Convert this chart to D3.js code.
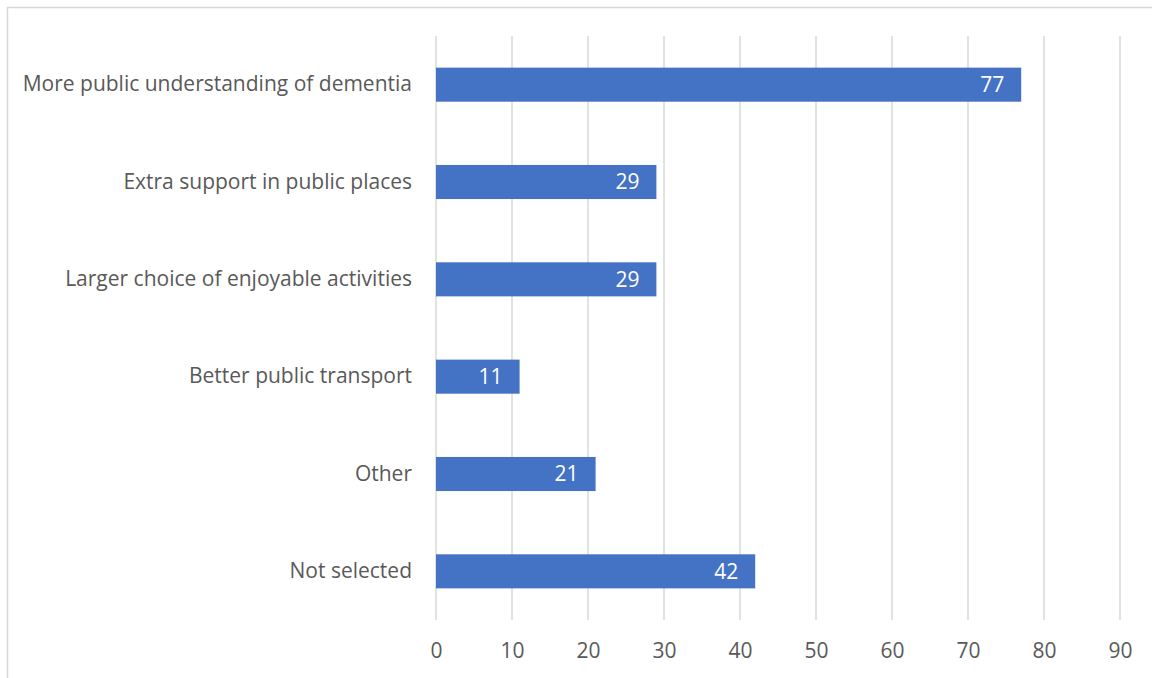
<!DOCTYPE html>
<html>
<head>
<meta charset="utf-8">
<script src="https://cdn.jsdelivr.net/npm/d3@7"></script>
<style>
  html, body { margin: 0; padding: 0; background: #fff; }
  svg { display: block; }
  text { font-family: "Open Sans", "Noto Sans", sans-serif; }
</style>
</head>
<body>
<svg id="chart" width="1152" height="678"></svg>
<script>
// Responses: what would help people living with dementia
const categories = [
  "More public understanding of dementia",
  "Extra support in public places",
  "Larger choice of enjoyable activities",
  "Better public transport",
  "Other",
  "Not selected"
];
const values = [77, 29, 29, 11, 21, 42];
const tickValues = [0, 10, 20, 30, 40, 50, 60, 70, 80, 90];

const W = 1152, H = 678;
const plot = { left: 436, right: 1120, top: 36, bottom: 620 };
const fontSize = "21px";

const svg = d3.select("#chart");

// outer chart frame
svg.append("rect")
  .attr("x", 7.5).attr("y", 7.5)
  .attr("width", W).attr("height", H)
  .attr("fill", "none")
  .attr("stroke", "#d9d9d9")
  .attr("stroke-width", 1.5);

const x = d3.scaleLinear().domain([0, 90]).range([plot.left, plot.right]);
const y = d3.scaleBand()
  .domain(categories)
  .range([plot.top, plot.bottom])
  .paddingInner(0.65)
  .paddingOuter(0.325);

// vertical gridlines
svg.append("g")
  .selectAll("line")
  .data(tickValues)
  .join("line")
  .attr("x1", d => x(d)).attr("x2", d => x(d))
  .attr("y1", plot.top).attr("y2", plot.bottom)
  .attr("stroke", "#d9d9d9")
  .attr("stroke-width", 1.5);

// x axis tick labels
const xAxis = d3.axisBottom(x).tickValues(tickValues).tickSize(0).tickPadding(0);
const gx = svg.append("g")
  .attr("transform", `translate(0,${plot.bottom})`)
  .call(xAxis);
gx.select(".domain").remove();
gx.selectAll("text")
  .attr("y", 38)
  .attr("dy", 0)
  .attr("fill", "#595959")
  .style("font-size", fontSize)
  .style("font-family", '"Open Sans", sans-serif');

// bars
svg.append("g")
  .selectAll("rect")
  .data(categories)
  .join("rect")
  .attr("x", x(0))
  .attr("y", d => y(d))
  .attr("width", (d, i) => x(values[i]) - x(0))
  .attr("height", y.bandwidth())
  .attr("fill", "#4472c4");

// category labels
const yAxis = d3.axisLeft(y).tickSize(0).tickPadding(24);
const gy = svg.append("g")
  .attr("transform", `translate(${plot.left},0)`)
  .call(yAxis);
gy.select(".domain").remove();
gy.selectAll("text")
  .attr("fill", "#595959")
  .style("font-size", fontSize)
  .style("font-family", '"Open Sans", sans-serif');

// value labels inside the bar ends
svg.append("g")
  .selectAll("text")
  .data(categories)
  .join("text")
  .attr("x", (d, i) => x(values[i]) - 17)
  .attr("y", d => y(d) + y.bandwidth() / 2)
  .attr("dy", "0.35em")
  .attr("text-anchor", "end")
  .attr("fill", "#ffffff")
  .style("font-size", fontSize)
  .text((d, i) => values[i]);
</script>
</body>
</html>
